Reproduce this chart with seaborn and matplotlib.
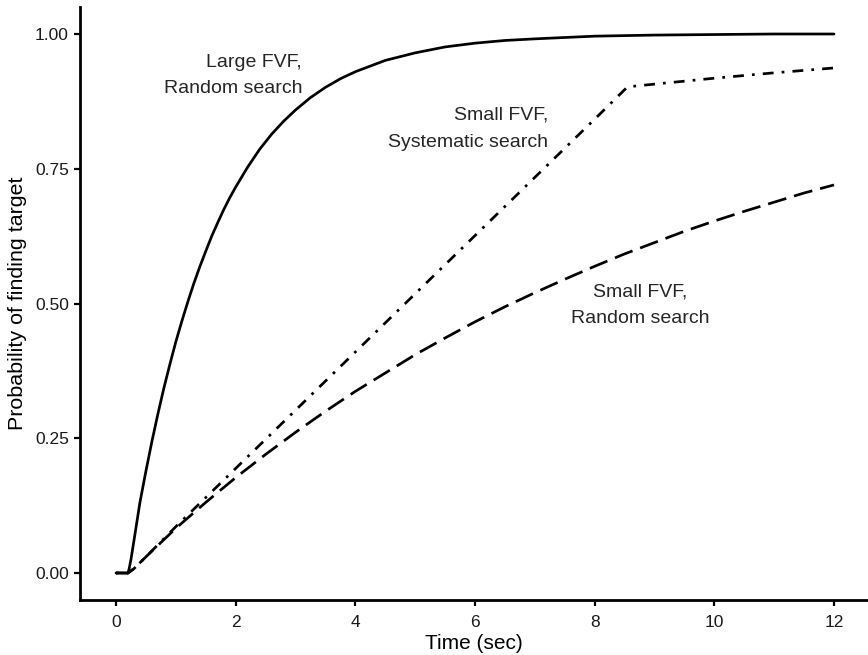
import matplotlib
matplotlib.use("Agg")
import matplotlib.pyplot as plt
import numpy as np
import pandas as pd
import seaborn as sns

# ---- data ----
time_large = [0.0, 0.2, 0.22, 0.25, 0.3, 0.4, 0.5, 0.6, 0.7, 0.8, 0.9, 1.0, 1.1, 1.2,
              1.3, 1.4, 1.5, 1.6, 1.7, 1.8, 1.9, 2.0, 2.2, 2.4, 2.6, 2.8, 3.0, 3.25,
              3.5, 3.75, 4.0, 4.5, 5.0, 5.5, 6.0, 6.5, 7.0, 8.0, 9.0, 10.0, 11.0, 12.0]
prob_large = [0.0, 0.0, 0.008, 0.025, 0.060, 0.131, 0.189, 0.244, 0.295, 0.343, 0.387,
              0.429, 0.467, 0.503, 0.537, 0.568, 0.597, 0.625, 0.650, 0.674, 0.696,
              0.716, 0.753, 0.786, 0.814, 0.838, 0.859, 0.882, 0.901, 0.917, 0.930,
              0.951, 0.965, 0.976, 0.983, 0.988, 0.991, 0.996, 0.998, 0.999, 1.0, 1.0]

time_systematic = [0.0, 0.2, 0.3, 0.5, 1.0, 2.0, 3.0, 4.0, 5.0, 6.0, 7.0, 8.0, 8.55,
                   9.0, 10.0, 11.0, 12.0]
prob_systematic = [0.0, 0.0, 0.008, 0.030, 0.086, 0.194, 0.302, 0.410, 0.518, 0.626,
                   0.734, 0.842, 0.902, 0.907, 0.918, 0.928, 0.937]

time_random = [0.0, 0.2, 0.3, 0.5, 1.0, 1.5, 2.0, 2.5, 3.0, 3.5, 4.0, 4.5, 5.0, 5.5,
               6.0, 6.5, 7.0, 7.5, 8.0, 8.5, 9.0, 9.5, 10.0, 10.5, 11.0, 11.5, 12.0]
prob_random = [0.0, 0.0, 0.008, 0.030, 0.083, 0.131, 0.177, 0.220, 0.261, 0.300,
               0.337, 0.371, 0.405, 0.436, 0.466, 0.494, 0.520, 0.545, 0.569, 0.592,
               0.613, 0.634, 0.653, 0.671, 0.688, 0.705, 0.720]

series_names = ["Large FVF, Random search",
                "Small FVF, Systematic search",
                "Small FVF, Random search"]
label_texts = ["Large FVF,\nRandom search",
               "Small FVF,\nSystematic search",
               "Small FVF,\nRandom search"]
x_ticks = [0, 2, 4, 6, 8, 10, 12]
y_ticks = [0.0, 0.25, 0.50, 0.75, 1.00]
y_tick_labels = ["0.00", "0.25", "0.50", "0.75", "1.00"]
x_title = "Time (sec)"
y_title = "Probability of finding target"

# ---- build long table ----
df = pd.concat([
    pd.DataFrame({"time": time_large, "prob": prob_large, "series": series_names[0]}),
    pd.DataFrame({"time": time_systematic, "prob": prob_systematic, "series": series_names[1]}),
    pd.DataFrame({"time": time_random, "prob": prob_random, "series": series_names[2]}),
], ignore_index=True)

sns.set_theme(style="ticks")
plt.rcParams["font.family"] = ["Liberation Sans", "DejaVu Sans"]

W, H = 868, 655
fig = plt.figure(figsize=(W / 100, H / 100), dpi=100)
left, right, top, bottom = 80, 868, 7, 600
ax = fig.add_axes([left / W, (H - bottom) / H, (right - left) / W, (bottom - top) / H])

sns.lineplot(
    data=df, x="time", y="prob", hue="series", style="series",
    hue_order=series_names, style_order=series_names,
    palette=["black"] * 3,
    dashes={series_names[0]: "", series_names[1]: (1, 3, 4, 3), series_names[2]: (7, 3)},
    linewidth=1.95, legend=False, sort=False, estimator=None, ax=ax,
)
for line in ax.get_lines():
    line.set_solid_joinstyle("round")
    line.set_solid_capstyle("round")

px_per_x = (834 - 116) / 12
px_per_y = (573 - 34) / 1.0
ax.set_xlim(-(116 - left) / px_per_x, (right - 116) / px_per_x)
ax.set_ylim(-(bottom - 573) / px_per_y, (573 - top) / px_per_y)

ax.set_xticks(x_ticks)
ax.set_xticklabels([str(t) for t in x_ticks])
ax.set_yticks(y_ticks)
ax.set_yticklabels(y_tick_labels)

for s in ["top", "right"]:
    ax.spines[s].set_visible(False)
for s in ["left", "bottom"]:
    ax.spines[s].set_linewidth(2.0)
    ax.spines[s].set_color("black")
ax.tick_params(axis="both", length=4, width=1.6, color="black", labelsize=12.5,
               labelcolor="#1a1a1a")
ax.tick_params(axis="y", pad=4)
ax.tick_params(axis="x", pad=6.5)

ax.set_xlabel(x_title, fontsize=15, color="black", labelpad=3)
ax.set_ylabel(y_title, fontsize=15.4, color="black", labelpad=6)

ax.text(3.11, 0.923, label_texts[0], ha="right", va="center", fontsize=14,
        multialignment="right", linespacing=1.75)
ax.text(7.22, 0.824, label_texts[1], ha="right", va="center", fontsize=14,
        multialignment="right", linespacing=1.75)
ax.text(8.76, 0.497, label_texts[2], ha="center", va="center", fontsize=14,
        multialignment="center", linespacing=1.75)

fig.savefig("out.png", dpi=100)
